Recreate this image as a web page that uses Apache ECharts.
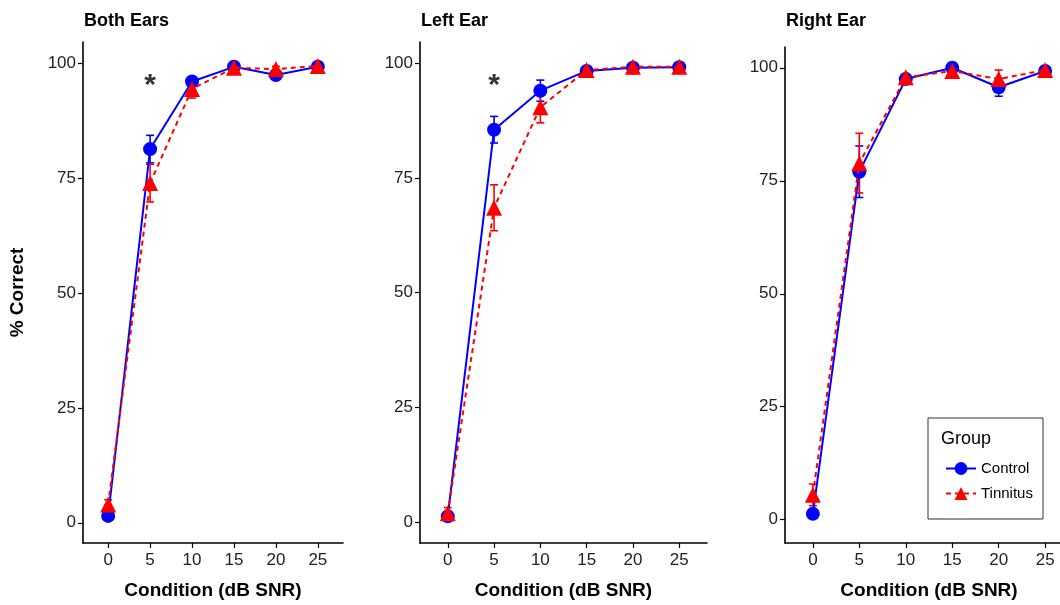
<!DOCTYPE html>
<html style="height: 100%;">
<head>
    <meta charset="UTF-8">
    <script src="https://cdn.jsdelivr.net/npm/echarts/dist/echarts.min.js"></script>
</head>
<body style="height: 100%; margin: 0; background: #fff;">
    <div id="chart" style="width: 1060px; height: 605px;"></div>

    <script type="text/javascript">
        // Conditions (dB SNR)
        var conditions = [0, 5, 10, 15, 20, 25];
        var xTicks = [0, 5, 10, 15, 20, 25];
        var yTicks = [0, 25, 50, 75, 100];
        var panelTitles = ['Both Ears', 'Left Ear', 'Right Ear'];

        // Both Ears
        var bothControl = [1.5, 81.3, 96.0, 99.2, 97.4, 99.2];
        var bothControlSe = [0.5, 3.0, 0.8, 0.5, 0.8, 0.5];
        var bothTinnitus = [4.0, 73.9, 94.4, 99.0, 98.7, 99.4];
        var bothTinnitusSe = [1.0, 4.1, 2.0, 0.5, 0.6, 0.5];

        // Left Ear
        var leftControl = [1.3, 85.5, 94.0, 98.3, 99.0, 99.1];
        var leftControlSe = [0.5, 2.9, 2.3, 0.8, 0.5, 0.5];
        var leftTinnitus = [2.0, 68.5, 90.4, 98.5, 99.2, 99.2];
        var leftTinnitusSe = [1.2, 5.0, 3.4, 0.8, 0.5, 0.5];

        // Right Ear
        var rightControl = [1.3, 77.0, 97.5, 100.0, 95.7, 99.3];
        var rightControlSe = [0.5, 5.7, 0.5, 0.3, 2.0, 0.8];
        var rightTinnitus = [5.5, 78.9, 97.9, 99.3, 97.5, 99.5];
        var rightTinnitusSe = [2.4, 6.6, 0.8, 0.5, 2.0, 0.6];

        // significance markers: [condition, y position]
        var bothStars = [[5, 95]];
        var leftStars = [[5, 95]];

        var controlData = [bothControl, leftControl, rightControl];
        var controlSe = [bothControlSe, leftControlSe, rightControlSe];
        var tinnitusData = [bothTinnitus, leftTinnitus, rightTinnitus];
        var tinnitusSe = [bothTinnitusSe, leftTinnitusSe, rightTinnitusSe];
        var starData = [bothStars, leftStars, []];

        var BLUE = '#0000ff';
        var RED = '#ff0000';
        var FONT = 'Liberation Sans, Arial, sans-serif';

        var chart = echarts.init(document.getElementById('chart'));

        // panel layout (pixels); the right panel runs past the edge like the original
        var grids = [
            { left: 83, top: 42, width: 260, height: 501, outerBoundsMode: 'none' },
            { left: 420, top: 42, width: 287, height: 501, outerBoundsMode: 'none' },
            { left: 785, top: 47, width: 288, height: 496, outerBoundsMode: 'none' }
        ];
        var yRanges = [[-4.4, 104.6], [-4.5, 104.6], [-5.15, 104.6]];

        function pairs(ys) {
            return ys.map(function (v, i) { return [conditions[i], v]; });
        }
        function errRows(ys, se) {
            return ys.map(function (v, i) { return [conditions[i], v - se[i], v + se[i]]; });
        }

        // error bar drawing
        function renderErr(color) {
            return function (params, api) {
                var x = api.value(0);
                var top = api.coord([x, api.value(2)]);
                var bot = api.coord([x, api.value(1)]);
                var w = 4;
                var st = { stroke: color, lineWidth: 1.6 };
                return {
                    type: 'group',
                    children: [
                        { type: 'line', shape: { x1: top[0], y1: top[1], x2: bot[0], y2: bot[1] }, style: st },
                        { type: 'line', shape: { x1: top[0] - w, y1: top[1], x2: top[0] + w, y2: top[1] }, style: st },
                        { type: 'line', shape: { x1: bot[0] - w, y1: bot[1], x2: bot[0] + w, y2: bot[1] }, style: st }
                    ]
                };
            };
        }

        var xAxes = [], yAxes = [], series = [], titles = [];
        for (var p = 0; p < 3; p++) {
            titles.push({
                text: panelTitles[p],
                left: grids[p].left + 1,
                top: 12,
                padding: 0,
                textStyle: { fontFamily: FONT, fontSize: 18, fontWeight: 'bold', color: '#000' }
            });
            xAxes.push({
                gridIndex: p,
                type: 'value',
                min: -3,
                max: 28,
                name: 'Condition (dB SNR)',
                nameLocation: 'middle',
                nameGap: 38,
                nameTextStyle: { fontFamily: FONT, fontSize: 19, fontWeight: 'bold', color: '#000' },
                splitLine: { show: false },
                axisLine: { onZero: false, lineStyle: { color: '#000', width: 1.6 } },
                axisTick: { length: 5, customValues: xTicks, lineStyle: { color: '#000', width: 1.2 } },
                axisLabel: { customValues: xTicks, margin: 9, fontFamily: FONT, fontSize: 17, color: '#222' }
            });
            yAxes.push({
                gridIndex: p,
                type: 'value',
                min: yRanges[p][0],
                max: yRanges[p][1],
                name: p === 0 ? '% Correct' : '',
                nameLocation: 'middle',
                nameRotate: 90,
                nameGap: 56,
                nameTextStyle: { fontFamily: FONT, fontSize: 19, fontWeight: 'bold', color: '#000' },
                splitLine: { show: false },
                axisLine: { show: true, onZero: false, lineStyle: { color: '#000', width: 1.6 } },
                axisTick: { length: 5, customValues: yTicks, lineStyle: { color: '#000', width: 1.2 } },
                axisLabel: { customValues: yTicks, margin: 7, fontFamily: FONT, fontSize: 17, color: '#222' }
            });

            // error bars first, then lines and points
            series.push({
                type: 'custom', xAxisIndex: p, yAxisIndex: p, z: 2,
                renderItem: renderErr(BLUE), data: errRows(controlData[p], controlSe[p])
            });
            series.push({
                type: 'custom', xAxisIndex: p, yAxisIndex: p, z: 2,
                renderItem: renderErr(RED), data: errRows(tinnitusData[p], tinnitusSe[p])
            });
            series.push({
                name: 'Control', type: 'line', xAxisIndex: p, yAxisIndex: p, z: 3,
                data: pairs(controlData[p]),
                symbol: 'circle', symbolSize: 14,
                itemStyle: { color: BLUE },
                lineStyle: { color: BLUE, width: 2 }
            });
            series.push({
                name: 'Tinnitus', type: 'line', xAxisIndex: p, yAxisIndex: p, z: 4,
                data: pairs(tinnitusData[p]),
                symbol: 'triangle', symbolSize: 16,
                itemStyle: { color: RED },
                lineStyle: { color: RED, width: 2, type: [5, 4] }
            });
            series.push({
                type: 'scatter', xAxisIndex: p, yAxisIndex: p, z: 5,
                data: starData[p],
                symbolSize: 1,
                itemStyle: { color: 'rgba(0,0,0,0)' },
                label: {
                    show: true, position: 'inside', formatter: '*',
                    fontFamily: FONT, fontSize: 30, fontWeight: 'bold', color: '#000'
                }
            });
        }

        var option = {
            animation: false,
            title: titles,
            grid: grids,
            xAxis: xAxes,
            yAxis: yAxes,
            legend: {
                data: ['Control', 'Tinnitus'],
                orient: 'vertical',
                left: 940,
                top: 456,
                itemWidth: 30,
                itemHeight: 16,
                itemGap: 10,
                textStyle: { fontFamily: FONT, fontSize: 15, color: '#000' }
            },
            graphic: [
                {
                    type: 'rect',
                    shape: { x: 928, y: 418, width: 115, height: 101 },
                    style: { fill: '#fff', stroke: '#333', lineWidth: 1 },
                    z: 0
                },
                {
                    type: 'text',
                    x: 941, y: 430,
                    style: { text: 'Group', font: '18px Liberation Sans, Arial, sans-serif', fill: '#000' }
                }
            ],
            series: series
        };

        chart.setOption(option);
    </script>
</body>
</html>
